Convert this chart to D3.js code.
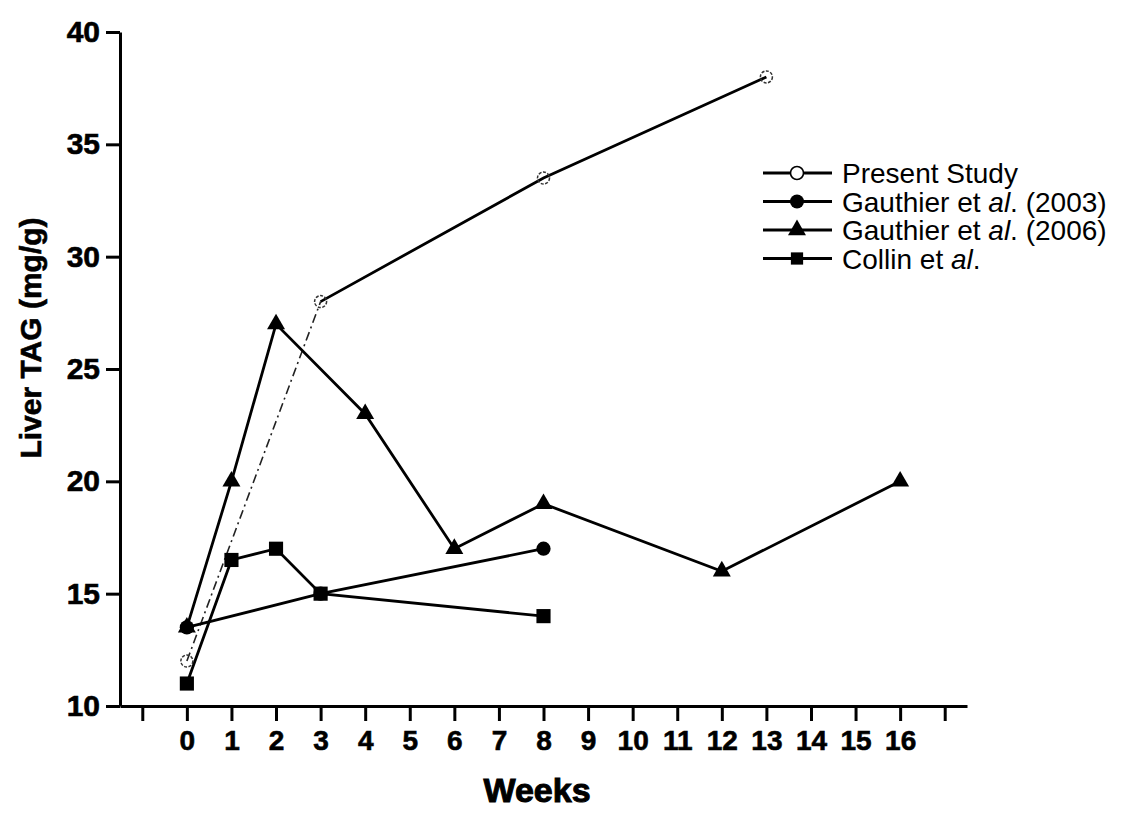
<!DOCTYPE html>
<html>
<head>
<meta charset="utf-8">
<script src="https://cdn.jsdelivr.net/npm/d3@7"></script>
<style>
  body { margin: 0; background: #fff; }
  svg { display: block; }
  text { font-family: "Liberation Sans", Arial, Helvetica, sans-serif; }
</style>
</head>
<body>
<svg id="chart" width="1124" height="820"></svg>
<script>
// data
const presentWeeks = [0, 3, 8, 13];
const presentTag = [12, 28, 33.5, 38];
const g2003Weeks = [0, 3, 8];
const g2003Tag = [13.5, 15, 17];
const g2006Weeks = [0, 1, 2, 4, 6, 8, 12, 16];
const g2006Tag = [13.5, 20, 27, 23, 17, 19, 16, 20];
const collinWeeks = [0, 1, 2, 3, 8];
const collinTag = [11, 16.5, 17, 15, 14];

const xMajor = d3.range(-1, 18);
const xMinor = d3.range(-1.5, 17.6, 1);
const yMajor = [10, 15, 20, 25, 30, 35, 40];
const yMinor = [12.5, 17.5, 22.5, 27.5, 32.5, 37.5];

const legendNames = ["Present Study", "Gauthier et al. (2003)", "Gauthier et al. (2006)", "Collin et al."];

const svg = d3.select("#chart");
const margin = { top: 32, right: 157, bottom: 114, left: 120 };
const width = 1124, height = 820;

const x = d3.scaleLinear()
  .domain([-1.5, 17.5])
  .range([margin.left, width - margin.right]);

const y = d3.scaleLinear()
  .domain([10, 40])
  .range([height - margin.bottom, margin.top]);

const toPts = (ws, vs) => ws.map((w, i) => ({ w, v: vs[i] }));
const present = toPts(presentWeeks, presentTag);
const g2003 = toPts(g2003Weeks, g2003Tag);
const g2006 = toPts(g2006Weeks, g2006Tag);
const collin = toPts(collinWeeks, collinTag);

// axes
const xAxisG = svg.append("g").attr("transform", `translate(0,${y(10)})`);
xAxisG.call(d3.axisBottom(x).tickValues(xMinor).tickSize(8).tickSizeOuter(0).tickFormat(""));
xAxisG.call(d3.axisBottom(x).tickValues(xMajor).tickSize(15).tickSizeOuter(0).tickPadding(9)
  .tickFormat(d => (d >= 0 && d <= 16) ? d : ""));

const yAxisG = svg.append("g").attr("transform", `translate(${x(-1.5)},0)`);
yAxisG.call(d3.axisLeft(y).tickValues(yMinor).tickSize(8).tickSizeOuter(0).tickFormat(""));
yAxisG.call(d3.axisLeft(y).tickValues(yMajor).tickSize(14).tickSizeOuter(0).tickPadding(6));

svg.selectAll(".domain").attr("stroke", "#000").attr("stroke-width", 3);
svg.selectAll(".tick line").attr("stroke", "#000").attr("stroke-width", 3);
xAxisG.selectAll("text").style("font-size", "28px").style("font-weight", "bold")
  .attr("fill", "#000").attr("stroke", "#000").attr("stroke-width", 0.6);
yAxisG.selectAll("text").style("font-size", "30px").style("font-weight", "bold")
  .attr("fill", "#000").attr("stroke", "#000").attr("stroke-width", 0.6);

svg.append("text")
  .attr("x", 537).attr("y", 802)
  .attr("text-anchor", "middle")
  .style("font-size", "34px").style("font-weight", "bold")
  .attr("stroke", "#000").attr("stroke-width", 1)
  .text("Weeks");

svg.append("text")
  .attr("transform", "translate(41,338) rotate(-90)")
  .attr("text-anchor", "middle")
  .style("font-size", "30px").style("font-weight", "bold")
  .attr("stroke", "#000").attr("stroke-width", 0.6)
  .text("Liver TAG (mg/g)");

// lines
const line = d3.line().x(d => x(d.w)).y(d => y(d.v));
const plot = svg.append("g");

plot.append("path").datum(present.slice(0, 2))
  .attr("d", line).attr("fill", "none").attr("stroke", "#222")
  .attr("stroke-width", 1.6).attr("stroke-dasharray", "9,4,2,4");
plot.append("path").datum(present.slice(1))
  .attr("d", line).attr("fill", "none").attr("stroke", "#000").attr("stroke-width", 2.8);
[g2003, g2006, collin].forEach(s => {
  plot.append("path").datum(s)
    .attr("d", line).attr("fill", "none").attr("stroke", "#000").attr("stroke-width", 2.8);
});

// markers
const sym = {
  circle: d3.symbol().type(d3.symbolCircle),
  triangle: d3.symbol().type(d3.symbolTriangle),
  square: d3.symbol().type(d3.symbolSquare)
};

plot.selectAll(".m2003").data(g2003).join("path")
  .attr("transform", d => `translate(${x(d.w)},${y(d.v)})`)
  .attr("d", sym.circle.size(160)()).attr("fill", "#000");

plot.selectAll(".m2006").data(g2006).join("path")
  .attr("transform", d => `translate(${x(d.w)},${y(d.v)})`)
  .attr("d", sym.triangle.size(140)()).attr("fill", "#000");

plot.selectAll(".mcol").data(collin).join("path")
  .attr("transform", d => `translate(${x(d.w)},${y(d.v)})`)
  .attr("d", sym.square.size(200)()).attr("fill", "#000");

plot.selectAll(".mpres").data(present).join("circle")
  .attr("cx", d => x(d.w)).attr("cy", d => y(d.v)).attr("r", 6)
  .attr("fill", "none").attr("stroke", "#333").attr("stroke-width", 1.5)
  .attr("stroke-dasharray", "3,1.5");

// legend
const legend = svg.append("g");
const lx0 = 763, lx1 = 832, lmx = 797, ly0 = 173, lstep = 28.5;
const legendMarks = [
  g => g.append("circle").attr("cx", lmx).attr("cy", 0).attr("r", 6.5).attr("fill", "#fff").attr("stroke", "#000").attr("stroke-width", 1.6),
  g => g.append("circle").attr("cx", lmx).attr("cy", 0).attr("r", 7).attr("fill", "#000"),
  g => g.append("path").attr("transform", `translate(${lmx},0)`).attr("d", sym.triangle.size(140)()).attr("fill", "#000"),
  g => g.append("path").attr("transform", `translate(${lmx},0)`).attr("d", sym.square.size(150)()).attr("fill", "#000")
];

legendNames.forEach((name, i) => {
  const g = legend.append("g").attr("transform", `translate(0,${ly0 + i * lstep})`);
  g.append("line").attr("x1", lx0).attr("x2", lx1).attr("y1", 0).attr("y2", 0)
    .attr("stroke", "#000").attr("stroke-width", 2.8);
  legendMarks[i](g);
  const t = g.append("text").attr("x", 842).attr("y", 0).attr("dy", "0.36em")
    .style("font-size", "28px");
  const m = name.match(/^(.*)\b(al)(\.)(.*)$/);
  if (m) {
    t.append("tspan").text(m[1]);
    t.append("tspan").style("font-style", "italic").text(m[2]);
    t.append("tspan").text(m[3] + m[4]);
  } else {
    t.text(name);
  }
});
</script>
</body>
</html>
